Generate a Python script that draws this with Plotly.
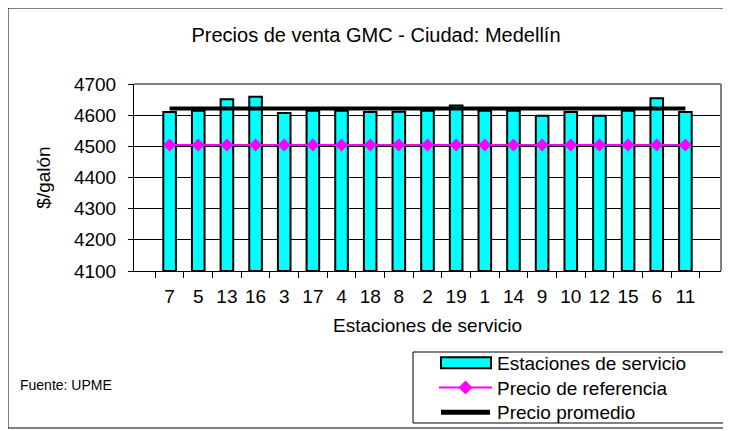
import plotly.graph_objects as go

estaciones = ["7", "5", "13", "16", "3", "17", "4", "18", "8", "2",
              "19", "1", "14", "9", "10", "12", "15", "6", "11"]
precio_estaciones = [4610, 4614, 4651, 4659, 4607, 4614, 4614, 4610, 4611, 4614,
                     4631, 4614, 4614, 4598, 4610, 4598, 4614, 4654, 4610]
precio_referencia = [4504] * 19
precio_promedio = [4621] * 19
y_ticks = [4100, 4200, 4300, 4400, 4500, 4600, 4700]
serie_nombres = ["Estaciones de servicio", "Precio de referencia", "Precio promedio"]

FONT = "Liberation Sans, Arial, sans-serif"
CYAN, MAGENTA = "#00FFFF", "#FF00FF"

# the page body adds an 8px margin; work in reference-page pixels and shift
OFF = 8
W, H = 731 - OFF, 431 - OFF
L, R, T, B = 134 - OFF, 721 - OFF, 84 - OFF, 271 - OFF
pw, ph = R - L, B - T
def px(x): return (x - OFF - L) / pw
def py(y): return (B - (y - OFF)) / ph

fig = go.Figure()
fig.add_trace(go.Bar(
    x=estaciones, y=[v - 4100 for v in precio_estaciones], base=4100,
    name=serie_nombres[0],
    marker=dict(color=CYAN, line=dict(color="black", width=2)),
    width=0.44, hoverinfo="skip",
))
fig.add_trace(go.Scatter(
    x=estaciones, y=precio_referencia, mode="lines+markers",
    name=serie_nombres[1],
    line=dict(color=MAGENTA, width=2),
    marker=dict(symbol="diamond", size=10, color=MAGENTA),
))
fig.add_trace(go.Scatter(
    x=estaciones, y=precio_promedio, mode="lines",
    name=serie_nombres[2],
    line=dict(color="black", width=4),
))

# legend drawn in the Excel style
LEG_FONT = 19
line_h = LEG_FONT * 1.3
yc_mid = 387.5
rows = [yc_mid - line_h, yc_mid, yc_mid + line_h]
lx0, lx1 = 439, 492
dx, dy = 6.5, 6.5
shapes = [
    dict(type="rect", xref="paper", yref="paper",
         x0=px(OFF), x1=px(728), y0=py(428), y1=py(OFF),
         line=dict(color="black", width=1), layer="below"),
    dict(type="line", xref="paper", yref="paper", x0=0, x1=1, y0=1, y1=1,
         line=dict(color="#808080", width=2), layer="above"),
    dict(type="line", xref="paper", yref="paper", x0=1, x1=1, y0=0, y1=1,
         line=dict(color="#808080", width=2), layer="above"),
    dict(type="rect", xref="paper", yref="paper",
         x0=px(413), x1=px(726), y0=py(423), y1=py(352),
         line=dict(color="black", width=1), fillcolor="white", layer="above"),
    dict(type="rect", xref="paper", yref="paper",
         x0=px(441), x1=px(491), y0=py(rows[0] + 5.5), y1=py(rows[0] - 5.5),
         line=dict(color="black", width=2), fillcolor=CYAN, layer="above"),
    dict(type="line", xref="paper", yref="paper",
         x0=px(lx0), x1=px(lx1), y0=py(rows[1]), y1=py(rows[1]),
         line=dict(color=MAGENTA, width=2), layer="above"),
    dict(type="path", xref="paper", yref="paper",
         path="M {a},{b} L {c},{d} L {a},{e} L {f},{d} Z".format(
             a=px(465.5), b=py(rows[1] - dy), c=px(465.5 + dx), d=py(rows[1]),
             e=py(rows[1] + dy), f=px(465.5 - dx)),
         line=dict(color=MAGENTA, width=1), fillcolor=MAGENTA, layer="above"),
    dict(type="line", xref="paper", yref="paper",
         x0=px(lx0 + 2), x1=px(lx1 - 2), y0=py(rows[2]), y1=py(rows[2]),
         line=dict(color="black", width=5), layer="above"),
]

annotations = [
    dict(text="Fuente: UPME", xref="paper", yref="paper",
         x=px(18), y=py(385), xanchor="left", yanchor="middle",
         showarrow=False, font=dict(size=14)),
    dict(text="<br>".join(serie_nombres), xref="paper", yref="paper",
         x=px(495), y=py(yc_mid), xanchor="left", yanchor="middle", align="left",
         showarrow=False, font=dict(size=LEG_FONT)),
]

fig.update_layout(
    width=W, height=H,
    margin=dict(l=L, r=W - R, t=T, b=H - B, pad=0, autoexpand=False),
    paper_bgcolor="white", plot_bgcolor="white",
    font=dict(family=FONT, size=19, color="black"),
    showlegend=False,
    title=dict(text="Precios de venta GMC - Ciudad: Medellín",
               font=dict(size=20), x=(376 - OFF) / W, xanchor="center",
               y=1 - (35 - OFF) / H, yanchor="middle"),
    xaxis=dict(
        type="category", categoryorder="array", categoryarray=estaciones,
        showline=True, linecolor="black", linewidth=1, automargin=False,
        ticks="outside", ticklen=6, tickcolor="black", tickson="boundaries",
        tickangle=0, ticklabelstandoff=8, showgrid=False,
        title=dict(text="Estaciones de servicio", font=dict(size=19), standoff=12),
    ),
    yaxis=dict(
        range=[4100, 4700], tickvals=y_ticks, ticktext=[str(v) for v in y_ticks],
        showline=True, linecolor="black", linewidth=1, automargin=False,
        ticks="outside", ticklen=5, tickcolor="black", ticklabelstandoff=8,
        showgrid=True, gridcolor="black", gridwidth=1, zeroline=False,
        title=dict(text="$/galón", font=dict(size=19), standoff=18),
    ),
    shapes=shapes,
    annotations=annotations,
)

fig.write_html("out.html")
